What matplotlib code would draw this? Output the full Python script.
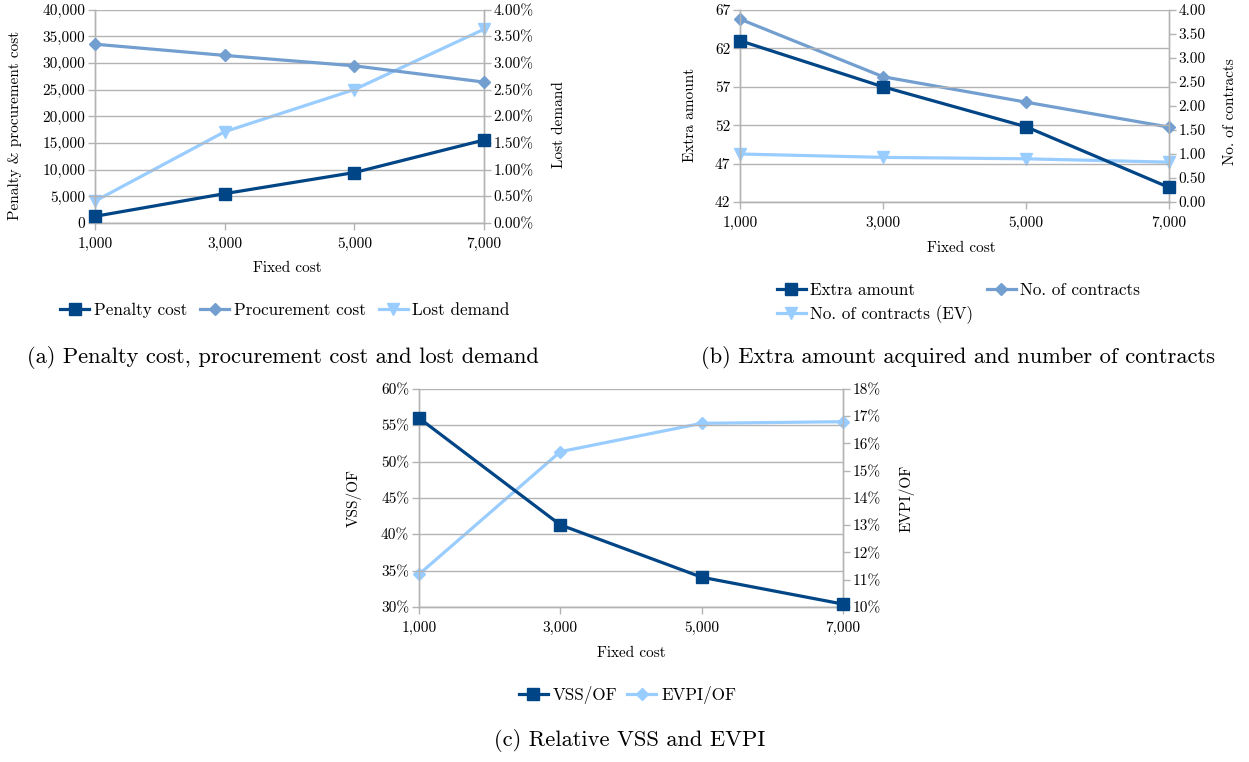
import matplotlib
matplotlib.use("Agg")
import matplotlib.pyplot as plt
from matplotlib.ticker import FuncFormatter, MultipleLocator, FixedLocator

plt.rcParams['font.family'] = ['cmr10', 'DejaVu Serif']
plt.rcParams['axes.unicode_minus'] = False

fixed_cost = [1000, 3000, 5000, 7000]
fixed_cost_labels = ["1,000", "3,000", "5,000", "7,000"]

# (a)
penalty_cost = [1250, 5500, 9450, 15550]
procurement_cost = [33500, 31400, 29450, 26400]
lost_demand = [0.0041, 0.0171, 0.0250, 0.0363]

# (b)
extra_amount = [63.0, 57.0, 51.8, 43.9]
extra_amount_ticks = [42, 47, 52, 57, 62, 67]
n_contracts = [3.81, 2.61, 2.08, 1.56]
n_contracts_ev = [1.00, 0.93, 0.90, 0.83]

# (c)
vss_of = [0.560, 0.413, 0.341, 0.304]
evpi_of = [0.112, 0.157, 0.1674, 0.168]

DARK = "#004586"
MID = "#729fcf"
LIGHT = "#99ccff"
GRID = "#b3b3b3"
FS = 11
LFS = 12.3
CAP = 16.2

W, H = 1249, 762
fig = plt.figure(figsize=(W / 100, H / 100), dpi=100)


def box(l, t, r, b):
    return [l / W, 1 - b / H, (r - l) / W, (b - t) / H]


def style(ax, ax2):
    for a in (ax, ax2):
        a.spines['top'].set_visible(False)
        for s in ('left', 'right', 'bottom'):
            a.spines[s].set_color(GRID)
            a.spines[s].set_linewidth(1.0)
        a.tick_params(colors=GRID, labelcolor='black', labelsize=FS,
                      length=5, width=1.0, direction='out', pad=2)
    ax.set_xlim(fixed_cost[0], fixed_cost[-1])
    ax.xaxis.set_major_locator(FixedLocator(fixed_cost))
    ax.set_xticklabels(fixed_cost_labels)
    ax.grid(axis='y', color=GRID, linewidth=1.0)
    ax.set_axisbelow(True)
    ax2.grid(False)
    ax.tick_params(axis='x', pad=5)


lw = 2.3
kw_sq = dict(marker='s', markersize=8.5, linewidth=lw, color=DARK, clip_on=False)
kw_di = dict(marker='D', markersize=6.5, linewidth=lw, clip_on=False)
kw_tr = dict(marker='v', markersize=9, linewidth=lw, color=LIGHT, clip_on=False)
leg_kw = dict(loc='center', frameon=False, fontsize=LFS, handlelength=1.7,
              handletextpad=0.27)

# ---------- (a)
axa = fig.add_axes(box(95, 9.5, 484, 223))
axa2 = axa.twinx()
l1, = axa.plot(fixed_cost, penalty_cost, label="Penalty cost", zorder=4, **kw_sq)
l2, = axa.plot(fixed_cost, procurement_cost, label="Procurement cost", color=MID, zorder=3, **kw_di)
l3, = axa2.plot(fixed_cost, lost_demand, label="Lost demand", zorder=2, **kw_tr)
axa.set_ylim(0, 40000)
axa.yaxis.set_major_locator(MultipleLocator(5000))
axa.yaxis.set_major_formatter(FuncFormatter(lambda v, p: f"{v:,.0f}"))
axa2.set_ylim(0, 0.04)
axa2.yaxis.set_major_locator(MultipleLocator(0.005))
axa2.yaxis.set_major_formatter(FuncFormatter(lambda v, p: f"{v*100:.2f}%"))
style(axa, axa2)
axa.set_zorder(axa2.get_zorder() + 1)
axa.patch.set_visible(False)
fig.text(15 / W, 1 - 125 / H, "Penalty & procurement cost", rotation=90, ha='center', va='center', fontsize=FS)
fig.text(559 / W, 1 - 125 / H, "Lost demand", rotation=90, ha='center', va='center', fontsize=FS)
fig.text(287 / W, 1 - 268 / H, "Fixed cost", ha='center', va='center', fontsize=FS)
fig.legend(handles=[l1, l2, l3], bbox_to_anchor=(285 / W, 1 - 310 / H),
           ncol=3, columnspacing=0.75, **leg_kw)
fig.text(283 / W, 1 - 357 / H, "(a) Penalty cost, procurement cost and lost demand",
         ha='center', va='center', fontsize=CAP)

# ---------- (b)
axb = fig.add_axes(box(740, 10, 1169, 202))
axb2 = axb.twinx()
m1, = axb.plot(fixed_cost, extra_amount, label="Extra amount", zorder=4, **kw_sq)
m2, = axb2.plot(fixed_cost, n_contracts, label="No. of contracts", color=MID, zorder=3, **kw_di)
m3, = axb2.plot(fixed_cost, n_contracts_ev, label="No. of contracts (EV)", zorder=2, **kw_tr)
axb.set_ylim(extra_amount_ticks[0], extra_amount_ticks[-1])
axb.yaxis.set_major_locator(FixedLocator(extra_amount_ticks))
axb.yaxis.set_major_formatter(FuncFormatter(lambda v, p: f"{v:.0f}"))
axb2.set_ylim(0, 4)
axb2.yaxis.set_major_locator(MultipleLocator(0.5))
axb2.yaxis.set_major_formatter(FuncFormatter(lambda v, p: f"{v:.2f}"))
style(axb, axb2)
axb.set_zorder(axb2.get_zorder() + 1)
axb.patch.set_visible(False)
fig.text(690 / W, 1 - 115 / H, "Extra amount", rotation=90, ha='center', va='center', fontsize=FS)
fig.text(1230 / W, 1 - 112 / H, "No. of contracts", rotation=90, ha='center', va='center', fontsize=FS)
fig.text(961 / W, 1 - 248 / H, "Fixed cost", ha='center', va='center', fontsize=FS)
fig.legend(handles=[m1, m3, m2], bbox_to_anchor=(958.5 / W, 1 - 303.5 / H),
           ncol=2, columnspacing=0.8, labelspacing=0.4, **leg_kw)
fig.text(958 / W, 1 - 357 / H, "(b) Extra amount acquired and number of contracts",
         ha='center', va='center', fontsize=CAP)

# ---------- (c)
axc = fig.add_axes(box(419, 389, 843, 607))
axc2 = axc.twinx()
n1, = axc.plot(fixed_cost, vss_of, label="VSS/OF", zorder=4, **kw_sq)
n2, = axc2.plot(fixed_cost, evpi_of, label="EVPI/OF", color=LIGHT, zorder=3, **kw_di)
axc.set_ylim(0.30, 0.60)
axc.yaxis.set_major_locator(MultipleLocator(0.05))
axc.yaxis.set_major_formatter(FuncFormatter(lambda v, p: f"{v*100:.0f}%"))
axc2.set_ylim(0.10, 0.18)
axc2.yaxis.set_major_locator(MultipleLocator(0.01))
axc2.yaxis.set_major_formatter(FuncFormatter(lambda v, p: f"{v*100:.0f}%"))
style(axc, axc2)
axc.set_zorder(axc2.get_zorder() + 1)
axc.patch.set_visible(False)
fig.text(354 / W, 1 - 498 / H, "VSS/OF", rotation=90, ha='center', va='center', fontsize=FS)
fig.text(907 / W, 1 - 498 / H, "EVPI/OF", rotation=90, ha='center', va='center', fontsize=FS)
fig.text(631 / W, 1 - 653 / H, "Fixed cost", ha='center', va='center', fontsize=FS)
fig.legend(handles=[n1, n2], bbox_to_anchor=(627.5 / W, 1 - 695 / H),
           ncol=2, columnspacing=0.6, **leg_kw)
fig.text(629.5 / W, 1 - 741 / H, "(c) Relative VSS and EVPI",
         ha='center', va='center', fontsize=CAP)

fig.savefig("out.png", dpi=100)
